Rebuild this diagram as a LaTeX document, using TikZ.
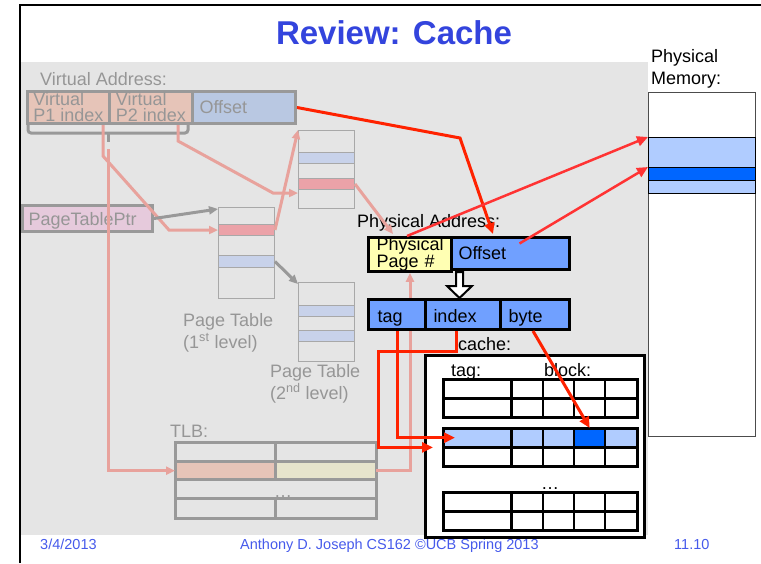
\documentclass[tikz,border=0pt]{standalone}
\usepackage{fontspec}
\setmainfont{Liberation Sans}
\usetikzlibrary{positioning, arrows.meta, calc}

\definecolor{titleblue}{RGB}{51,68,221}
\definecolor{footblue}{RGB}{70,90,235}
\definecolor{bggray}{RGB}{229,229,229}
\definecolor{fadeline}{RGB}{153,153,153}
\definecolor{fadetext}{RGB}{150,150,150}
\definecolor{fadesalmon}{RGB}{230,196,184}
\definecolor{fadeblue}{RGB}{185,200,226}
\definecolor{fadepink}{RGB}{230,202,220}
\definecolor{pinkfade}{RGB}{232,162,156}
\definecolor{ptred}{RGB}{235,162,168}
\definecolor{ptblue}{RGB}{200,210,234}
\definecolor{tlbyellow}{RGB}{230,228,204}
\definecolor{payellow}{RGB}{255,255,179}
\definecolor{pablue}{RGB}{112,160,255}
\definecolor{hitlight}{RGB}{176,204,255}
\definecolor{hitdark}{RGB}{0,102,255}
\definecolor{hotred}{RGB}{255,34,0}
\definecolor{memred}{RGB}{255,51,51}

\begin{document}
\begin{tikzpicture}[
        x=1pt, y=-1pt,
        >={Triangle[length=11pt, width=10pt]},
        every node/.style={font=\fontsize{18}{15}\selectfont, inner sep=0pt},
        fadebox/.style={draw=fadeline, line width=3pt, anchor=north west, text=fadetext},
        ptbox/.style={draw=fadeline!85, line width=1pt, anchor=north west, minimum width=56pt},
        hotbox/.style={draw, line width=3pt, anchor=north west},
        fieldbox/.style={hotbox, fill=pablue, minimum height=30pt, text height=16pt, text depth=0pt, align=left},
        rowfill/.style={anchor=north west, minimum height=19pt},
        redarrow/.style={->, draw=hotred, line width=3pt},
        memarrow/.style={->, draw=memred, line width=2.5pt},
        vpnarrow/.style={-{Triangle[length=9pt, width=8pt]}, draw=pinkfade, line width=3pt},
        grayarrow/.style={-{Triangle[length=9pt, width=8pt]}, draw=fadeline, line width=3pt}
    ]
        \useasboundingbox (0,0) rectangle (761,563);

        % Slide frame and faded background
        \draw[line width=2pt] (19.5,563) -- (19.5,5) -- (761,5);
        \fill[bggray] (21,62) rectangle (648,535);

        % Title and footer
        \node[anchor=base, text=titleblue, font=\bfseries\fontsize{33}{36}\selectfont] (title) at (394,44) {Review: Cache};
        \node[anchor=base west, text=footblue, font=\fontsize{14.5}{16}\selectfont] (date) at (40,549) {3/4/2013};
        \node[anchor=base west, text=footblue, font=\fontsize{14.5}{16}\selectfont] (course) at (240,549) {Anthony D. Joseph CS162 ©UCB Spring 2013};
        \node[anchor=base west, text=footblue, font=\fontsize{14.5}{16}\selectfont] (slideNo) at (674,549) {11.10};

        % Virtual address
        \node[anchor=base west, text=fadetext] (vaLabel) at (40,85) {Virtual Address:};
        \node[fadebox, fill=fadesalmon, minimum width=82pt, minimum height=32pt, align=left, font=\fontsize{18}{16}\selectfont] (vaP1) at (26,90) {Virtual\\P1 index};
        \node[fadebox, fill=fadesalmon, minimum width=83pt, minimum height=32pt, align=left, font=\fontsize{18}{16}\selectfont] (vaP2) at (108,90) {Virtual\\P2 index};
        \node[fadebox, fill=fadeblue, minimum height=32pt, text width=89pt, inner xsep=7pt, align=left] (vaOff) at (191,90) {Offset};
        \draw[fadeline, line width=3pt, rounded corners=3pt] (28,123) -- (28,133) -- (188,133) -- (188,123);
        \draw[fadeline, line width=3pt] (108,133) -- (108,142);
        \coordinate (vpnTap) at (108,149);

        % Page table pointer and page tables
        \node[fadebox, fill=fadepink, minimum height=26pt, text width=118pt, inner xsep=6pt, text height=14pt, text depth=0pt, align=left] (ptPtr) at (21,204) {PageTablePtr};

        \node[ptbox, minimum height=91pt] (pt1) at (218,207) {};
        \node[ptbox, fill=ptred, minimum height=11pt] (pt1Red) at (218,224) {};
        \node[ptbox, fill=ptblue, minimum height=12pt] (pt1Blue) at (218,255) {};

        \node[ptbox, minimum height=78pt] (pt2Top) at (298,130) {};
        \node[ptbox, fill=ptblue, minimum height=11pt] (pt2TopBlue) at (298,152) {};
        \node[ptbox, fill=ptred, minimum height=11pt] (pt2TopRed) at (298,178) {};

        \node[ptbox, minimum height=79pt] (pt2Low) at (298,282) {};
        \node[ptbox, fill=ptblue, minimum height=11pt] (pt2LowBlueA) at (298,305) {};
        \node[ptbox, fill=ptblue, minimum height=11pt] (pt2LowBlueB) at (298,330) {};

        \node[anchor=north west, align=left, text=fadetext, font=\fontsize{18}{22}\selectfont] (pt1Label) at (183,313) {Page Table\\(1\textsuperscript{st} level)};
        \node[anchor=north west, align=left, text=fadetext, font=\fontsize{18}{22}\selectfont] (pt2Label) at (270,364) {Page Table\\(2\textsuperscript{nd} level)};

        % TLB
        \node[anchor=base west, text=fadetext] (tlbLabel) at (170,437) {TLB:};
        \node[rowfill, fill=fadesalmon, minimum width=100pt] (tlbVpn) at (175,461) {};
        \node[rowfill, fill=tlbyellow, minimum width=101pt] (tlbPpn) at (275,461) {};
        \draw[fadeline, line width=3pt] (175,442) rectangle (376,518)
            (175,461) -- (376,461) (175,479) -- (376,479) (175,498) -- (376,498)
            (275,442) -- (275,479) (275,498) -- (275,518);
        \node[anchor=base, text=fadetext] (tlbDots) at (283,497) {\dots};

        % Physical address
        \node[anchor=base west] (paLabel) at (357,227) {Physical Address:};
        \node[hotbox, fill=payellow, minimum height=32pt, text width=67pt, inner xsep=8pt, align=left] (paPage) at (367,236) {Physical\\Page \#};
        \node[hotbox, fill=pablue, minimum height=32pt, text width=104pt, inner xsep=7pt, align=left] (paOff) at (450,236) {Offset};

        % Faded translation arrows
        \draw[vpnarrow] ($(vaP1.south east)+(-8,0)$) -- ++(0,31) -- ($(pt1Red.west)+(-49,0)$) -- (pt1Red.west);
        \draw[vpnarrow] ($(vaP2.south east)+(-16,0)$) -- ++(0,16) -- ($(pt2TopRed.south west)+(-25,3)$) -- ($(pt2TopRed.south west)+(0,3)$);
        \draw[vpnarrow] (pt1Red.east) -- (pt2Top.north west);
        \draw[vpnarrow] (pt2TopRed.east) -- ($(paPage.north west)+(26,-2)$);
        \draw[vpnarrow] (vpnTap) |- (tlbVpn.west);
        \draw[vpnarrow] (tlbPpn.east) -| (paPage.south);
        \draw[grayarrow] (ptPtr.east) -- ($(pt1.north west)+(0,2)$);
        \draw[grayarrow] (pt1Blue.east) -- ($(pt2Low.north west)+(0,2)$);

        % Split of the physical address
        \draw[line width=2pt, fill=white] (456,272) -- (463,272) -- (463,286) -- (472,286) -- (459.5,298) -- (447,286) -- (456,286) -- cycle;
        \node[fieldbox, text width=39pt, inner xsep=9pt] (tag) at (367,298) {tag};
        \node[fieldbox, text width=59pt, inner xsep=8pt] (index) at (424,298) {index};
        \node[fieldbox, text width=53pt, inner xsep=8pt] (byte) at (499,298) {byte};

        % Cache
        \node[anchor=base west] (cacheLabel) at (458,350) {cache:};
        \node[hotbox, fill=white, minimum width=219pt, minimum height=182pt] (cacheBox) at (424,354) {};
        \node[anchor=base west] (tagLabel) at (451,376) {tag:};
        \node[anchor=base west] (blockLabel) at (544,376) {block:};
        \node[rowfill, fill=hitlight, minimum width=194pt] (hitRow) at (443,428) {};
        \node[rowfill, fill=hitdark, minimum width=31pt] (hitWord) at (574,428) {};
        \coordinate (setIn) at ($(cacheBox.west |- hitRow.south)+(9,0)$);
        \foreach \gy in {379,428,492} {
            \draw[line width=3pt] (443,\gy) rectangle (637,\gy+38)
                (443,\gy+19) -- (637,\gy+19) (511,\gy) -- (511,\gy+38);
            \foreach \bx in {543,574,605}
                \draw[line width=1.5pt] (\bx,\gy) -- (\bx,\gy+38);
        }
        \node[anchor=base] (cacheDots) at (550,489) {\dots};

        % Physical memory
        \node[anchor=north west, align=left, font=\fontsize{18}{22}\selectfont] (memLabel) at (651,49) {Physical\\Memory:};
        \node[draw=black!70, line width=1pt, fill=white, anchor=north west, minimum width=107pt, minimum height=344pt] (mem) at (648,92) {};
        \node[draw, line width=1pt, fill=hitlight, anchor=north west, minimum width=107pt, minimum height=56pt] (memBlock) at (648,137) {};
        \node[draw, line width=1pt, fill=hitdark, anchor=north west, minimum width=107pt, minimum height=13pt] (memWord) at (648,167) {};

        % Red arrows
        \draw[redarrow] (vaOff.east) -- ($(paOff.north west)+(10,-98)$) -- ($(paOff.north west)+(43,-2)$);
        \draw[memarrow] ($(paPage.north west)+(40,0)$) -- (memBlock.north west);
        \draw[memarrow] ($(paOff.center)+(9,-10)$) -- (memWord.north west);
        \draw[redarrow] ($(tag.south west)+(30,0)$) |- ($(hitRow.west)+(12,0)$);
        \draw[redarrow] ($(index.south west)+(32,0)$) -- ++(0,20) -- ++(-78,0) |- (setIn);
        \draw[redarrow] ($(byte.south west)+(34,0)$) -- (hitWord.north);
    \end{tikzpicture}
\end{document}
